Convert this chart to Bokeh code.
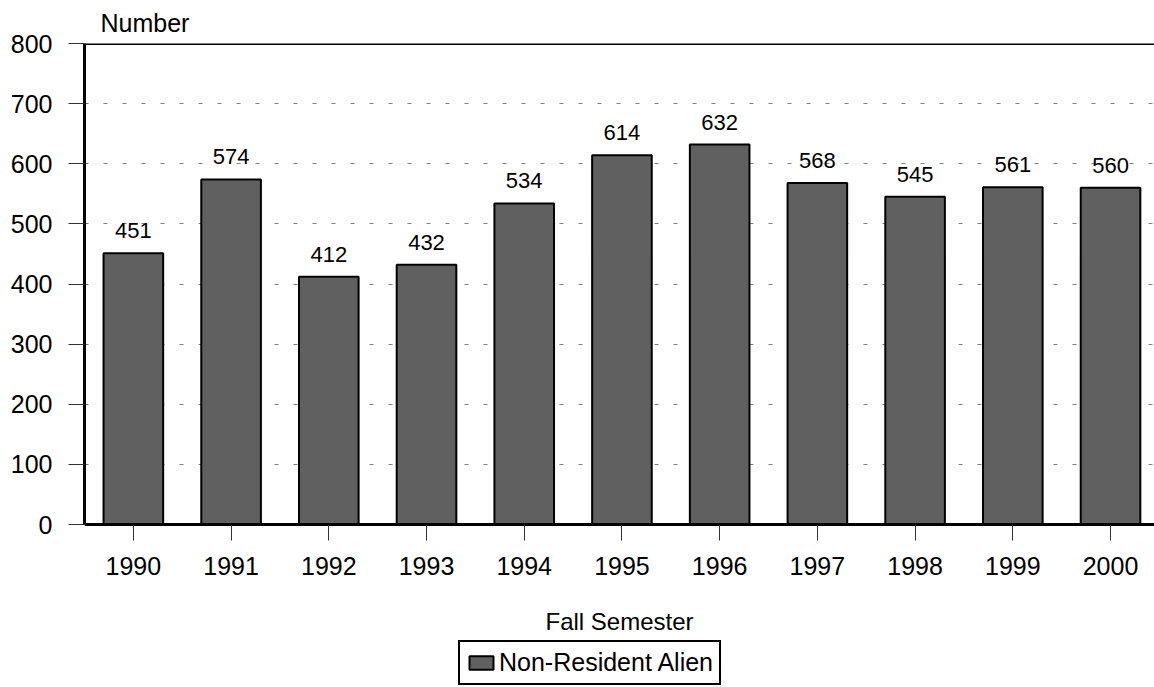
from bokeh.plotting import figure
from bokeh.models import (ColumnDataSource, Range1d, FixedTicker, Span, Legend,
                          LegendItem, LabelSet)
from bokeh.core.properties import value
from bokeh.embed import file_html
from bokeh.resources import INLINE

years = ["1990", "1991", "1992", "1993", "1994", "1995", "1996", "1997", "1998", "1999", "2000"]
counts = [451, 574, 412, 432, 534, 614, 632, 568, 545, 561, 560]
y_ticks = [0, 100, 200, 300, 400, 500, 600, 700, 800]

FONT = "Liberation Sans"
xs = list(range(len(years)))
src = ColumnDataSource(dict(x=xs, top=counts, label=[str(c) for c in counts]))

# frame extends below zero so the x axis (fixed at 0) and the legend sit inside it
p = figure(frame_width=1070, frame_height=644, output_backend="svg", toolbar_location=None,
           x_range=Range1d(-0.5, 10.45), y_range=Range1d(-271, 800),
           min_border_left=84, min_border_top=43, min_border_right=0,
           min_border_bottom=0)
p.title.text = "Number"
p.title.text_font = FONT
p.title.text_font_size = "25px"
p.title.text_font_style = "normal"
p.title.text_color = "black"
p.title.align = "left"
p.title.offset = 16
p.title.standoff = 13

p.outline_line_color = None
p.background_fill_color = "white"
p.border_fill_color = "white"

r = p.vbar(x="x", top="top", width=0.61, bottom=0, source=src,
           fill_color="#606060", line_color="black", line_width=2)

labels = LabelSet(x="x", y="top", text="label", source=src, text_align="center",
                  text_baseline="bottom", y_offset=15, text_font=value(FONT),
                  text_font_size="22px", text_color="black")
p.add_layout(labels)

p.add_layout(Span(location=800, dimension="width", line_color="black", line_width=3))

# axes
p.xaxis.fixed_location = 0
p.xaxis.ticker = FixedTicker(ticks=xs)
p.xaxis.major_label_overrides = {i: y for i, y in enumerate(years)}
p.xaxis.axis_label = "Fall Semester"
p.xaxis.axis_label_text_font = FONT
p.xaxis.axis_label_text_font_size = "24px"
p.xaxis.axis_label_text_font_style = "normal"
p.xaxis.axis_label_text_color = "black"
p.xaxis.axis_label_standoff = 30
p.xaxis.major_label_text_font = FONT
p.xaxis.major_label_text_font_size = "25px"
p.xaxis.major_label_text_color = "black"
p.xaxis.major_label_standoff = 16
p.xaxis.major_tick_in = 0
p.xaxis.major_tick_out = 16
p.xaxis.minor_tick_line_color = None
p.xaxis.axis_line_width = 3
p.xaxis.axis_line_color = "black"
p.xaxis.major_tick_line_color = "#333333"

p.yaxis.bounds = (0, 800)
p.yaxis.ticker = FixedTicker(ticks=y_ticks)
p.yaxis.major_label_text_font = FONT
p.yaxis.major_label_text_font_size = "25px"
p.yaxis.major_label_text_color = "black"
p.yaxis.major_label_standoff = 16
p.yaxis.major_tick_in = 0
p.yaxis.major_tick_out = 16
p.yaxis.minor_tick_line_color = None
p.yaxis.axis_line_width = 3
p.yaxis.axis_line_color = "black"
p.yaxis.major_tick_line_color = "#333333"

p.xgrid.grid_line_color = None
p.ygrid.ticker = FixedTicker(ticks=y_ticks[1:-1])
p.ygrid.grid_line_color = "#808080"
p.ygrid.grid_line_dash = "4 15"
p.ygrid.grid_line_width = 1

legend = Legend(items=[LegendItem(label="Non-Resident Alien", renderers=[r])],
                location=(374, 2), orientation="horizontal",
                label_text_font=FONT, label_text_font_size="25px",
                label_text_color="black",
                glyph_width=30, glyph_height=17, padding=6, margin=0,
                label_standoff=3, label_height=28,
                border_line_color="black", border_line_width=2,
                border_line_alpha=1.0,
                background_fill_alpha=1.0)
p.add_layout(legend, "center")

open("out.html", "w").write(file_html(p, INLINE))
